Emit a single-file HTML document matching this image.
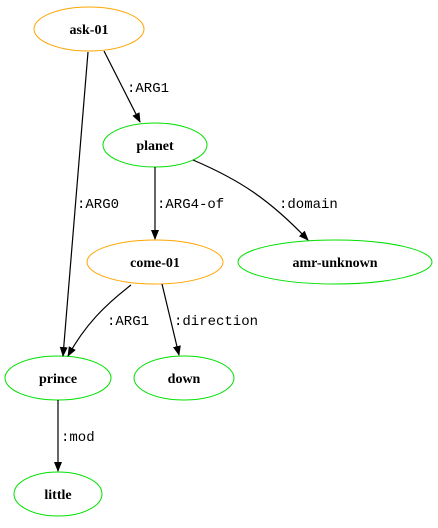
<!DOCTYPE html>
<html><head><meta charset="utf-8"><style>html,body{margin:0;padding:0;background:#fff}</style></head>
<body>
<svg width="438" height="523" viewBox="0 0 438 523" xmlns="http://www.w3.org/2000/svg">
<defs><marker id="a" markerWidth="10" markerHeight="8" refX="9" refY="4" orient="auto" markerUnits="userSpaceOnUse"><path d="M0,0 L10,4 L0,8 z" fill="#000"/></marker></defs>
<g fill="none" stroke-width="1">
<ellipse cx="89" cy="29" rx="55" ry="22" stroke="orange"/>
<ellipse cx="155" cy="145" rx="52" ry="22" stroke="#00e000"/>
<ellipse cx="155" cy="262" rx="68" ry="22" stroke="orange"/>
<ellipse cx="335" cy="262" rx="97" ry="22" stroke="#00e000"/>
<ellipse cx="58" cy="378" rx="53" ry="22" stroke="#00e000"/>
<ellipse cx="184" cy="378" rx="50" ry="22" stroke="#00e000"/>
<ellipse cx="58" cy="494" rx="44" ry="22" stroke="#00e000"/>
</g>
<g fill="none" stroke="#000" stroke-width="1.2" marker-end="url(#a)">
<path d="M104,51 L140,122"/>
<path d="M88,52 L63,356"/>
<path d="M155,167 L155,239"/>
<path d="M193,160 C240,180 270,200 308,240"/>
<path d="M131,285 C105,305 85,325 68,356"/>
<path d="M162,284 L179,355"/>
<path d="M58,400 L58,471"/>
</g>
<g font-family="Liberation Serif, serif" font-weight="bold" font-size="14" text-anchor="middle">
<text x="89" y="34">ask-01</text>
<text x="155" y="150">planet</text>
<text x="155" y="267">come-01</text>
<text x="335" y="267">amr-unknown</text>
<text x="58" y="383">prince</text>
<text x="184" y="383">down</text>
<text x="58" y="499">little</text>
</g>
<g font-family="Liberation Mono, monospace" font-size="14">
<text x="127" y="92">:ARG1</text>
<text x="77" y="208">:ARG0</text>
<text x="157" y="208">:ARG4-of</text>
<text x="279" y="208">:domain</text>
<text x="107" y="325">:ARG1</text>
<text x="174" y="325">:direction</text>
<text x="61" y="441">:mod</text>
</g>
</svg>
</body></html>
